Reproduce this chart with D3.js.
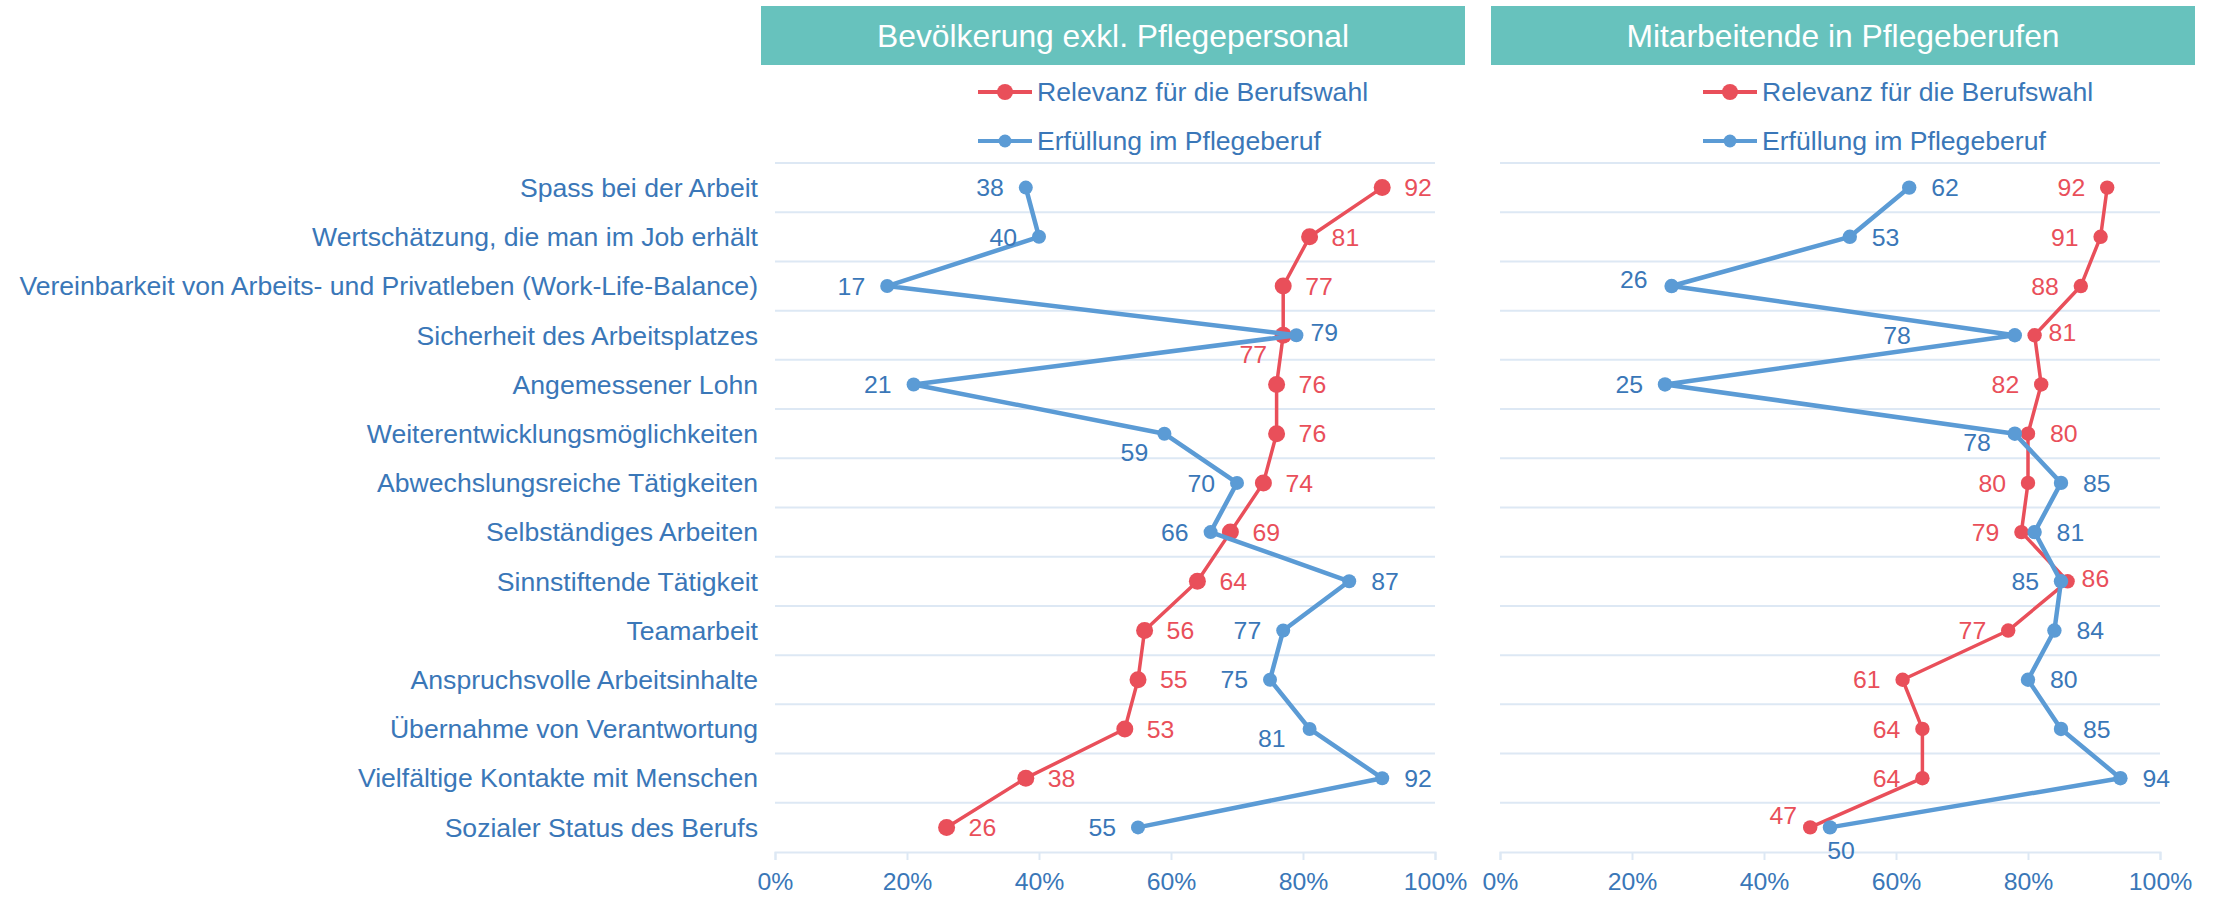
<!DOCTYPE html>
<html>
<head>
<meta charset="utf-8">
<script src="https://cdn.jsdelivr.net/npm/d3@7"></script>
<style>
body{margin:0;background:#fff;}
svg{display:block;font-family:"Liberation Sans",Arial,sans-serif;}
</style>
</head>
<body>
<svg id="chart" width="2214" height="897"></svg>
<script>
var categories = [
  "Spass bei der Arbeit",
  "Wertschätzung, die man im Job erhält",
  "Vereinbarkeit von Arbeits- und Privatleben (Work-Life-Balance)",
  "Sicherheit des Arbeitsplatzes",
  "Angemessener Lohn",
  "Weiterentwicklungsmöglichkeiten",
  "Abwechslungsreiche Tätigkeiten",
  "Selbständiges Arbeiten",
  "Sinnstiftende Tätigkeit",
  "Teamarbeit",
  "Anspruchsvolle Arbeitsinhalte",
  "Übernahme von Verantwortung",
  "Vielfältige Kontakte mit Menschen",
  "Sozialer Status des Berufs"
];
var panelTitles = ["Bevölkerung exkl. Pflegepersonal", "Mitarbeitende in Pflegeberufen"];
var seriesNames = ["Relevanz für die Berufswahl", "Erfüllung im Pflegeberuf"];

// Bevölkerung exkl. Pflegepersonal
var popRelevanz   = [92, 81, 77, 77, 76, 76, 74, 69, 64, 56, 55, 53, 38, 26];
var popErfuellung = [38, 40, 17, 79, 21, 59, 70, 66, 87, 77, 75, 81, 92, 55];
// Mitarbeitende in Pflegeberufen
var staffRelevanz   = [92, 91, 88, 81, 82, 80, 80, 79, 86, 77, 61, 64, 64, 47];
var staffErfuellung = [62, 53, 26, 78, 25, 78, 85, 81, 85, 84, 80, 85, 94, 50];

var xTicks = [0, 20, 40, 60, 80, 100];

// where each value label sits next to its point
var popRelPos   = ["r","r","r","bl","r","r","r","r","r","r","r","r","r","r"];
var popErfPos   = ["l","l","l","rn","l","bl","l","l","r","l","l","lb","r","l"];
var staffRelPos = ["l","l","l","rn","l","r","l","l","rn","l","l","l","l","al"];
var staffErfPos = ["r","r","lu","fl","l","lb","r","r","l","r","r","r","r","b"];

var RED = "#E94F5A", BLUE = "#5B9BD5", TEXTBLUE = "#3A77B8", RED_TEXT = "#E94F5A";
var GRID = "#DDE8F4", TEAL = "#67C2BD";

var svg = d3.select("#chart");

var y = d3.scaleBand().domain(categories).range([163, 852]).padding(0);

var panels = [
  {x0: 775, barX: 761, title: panelTitles[0], rel: popRelevanz, erf: popErfuellung,
   relPos: popRelPos, erfPos: popErfPos, relR: 8.5, erfR: 7},
  {x0: 1500, barX: 1491, title: panelTitles[1], rel: staffRelevanz, erf: staffErfuellung,
   relR: 7.2, erfR: 7.2, relPos: staffRelPos, erfPos: staffErfPos}
];

function labelOffset(code){
  switch(code){
    case "r":  return {dx: 22, dy: 0, anchor: "start"};
    case "rn": return {dx: 14, dy: -3, anchor: "start"};
    case "l":  return {dx: -22, dy: 0, anchor: "end"};
    case "lu": return {dx: -24, dy: -7, anchor: "end"};
    case "lb": return {dx: -24, dy: 9, anchor: "end"};
    case "bl": return {dx: -30, dy: 19, anchor: "middle"};
    case "al": return {dx: -27, dy: -12, anchor: "middle"};
    case "fl": return {dx: -104, dy: 0, anchor: "end"};
    case "b":  return {dx: 11, dy: 23, anchor: "middle"};
  }
}

// category labels (left side only)
svg.append("g").selectAll("text").data(categories).enter().append("text")
  .attr("x", 758)
  .attr("y", d => y(d) + y.bandwidth() / 2)
  .attr("dy", "0.35em")
  .attr("text-anchor", "end")
  .attr("font-size", "26.6px")
  .attr("fill", TEXTBLUE)
  .text(d => d);

panels.forEach(function(p){
  var x = d3.scaleLinear().domain([0, 100]).range([p.x0, p.x0 + 660]);
  var g = svg.append("g");

  // title bar
  g.append("rect")
    .attr("x", p.barX).attr("y", 6)
    .attr("width", 704).attr("height", 59)
    .attr("fill", TEAL);
  g.append("text")
    .attr("x", p.barX + 352).attr("y", 36)
    .attr("dy", "0.35em")
    .attr("text-anchor", "middle")
    .attr("font-size", "31.8px")
    .attr("fill", "#fff")
    .text(p.title);

  // legend
  var legend = [
    {name: seriesNames[0], color: RED, r: 8, y: 92},
    {name: seriesNames[1], color: BLUE, r: 6.5, y: 141}
  ];
  legend.forEach(function(l){
    var lx = p.x0 + 203;
    g.append("line")
      .attr("x1", lx).attr("x2", lx + 54)
      .attr("y1", l.y).attr("y2", l.y)
      .attr("stroke", l.color).attr("stroke-width", 4);
    g.append("circle")
      .attr("cx", lx + 27).attr("cy", l.y).attr("r", l.r)
      .attr("fill", l.color);
    g.append("text")
      .attr("x", lx + 59).attr("y", l.y)
      .attr("dy", "0.35em")
      .attr("font-size", "26.6px")
      .attr("fill", TEXTBLUE)
      .text(l.name);
  });

  // gridlines at band edges
  var edges = categories.map(d => y(d));
  g.append("g").selectAll("line").data(edges).enter().append("line")
    .attr("x1", p.x0).attr("x2", p.x0 + 660)
    .attr("y1", d => d).attr("y2", d => d)
    .attr("stroke", GRID).attr("stroke-width", 2);

  // x axis
  var axis = g.append("g")
    .attr("transform", "translate(0,852)")
    .call(d3.axisBottom(x).tickValues(xTicks).tickSize(8).tickPadding(12)
      .tickFormat(d => d + "%"));
  axis.select(".domain").attr("stroke", GRID).attr("stroke-width", 2);
  axis.selectAll(".tick line").attr("stroke", GRID).attr("stroke-width", 2);
  axis.selectAll(".tick text")
    .attr("font-size", "24.8px")
    .attr("font-family", "Liberation Sans, Arial, sans-serif")
    .attr("fill", TEXTBLUE);

  var line = d3.line()
    .x(d => x(d.v))
    .y(d => y(d.c) + y.bandwidth() / 2);

  var series = [
    {vals: p.rel, pos: p.relPos, color: RED, textColor: RED_TEXT, r: p.relR, width: 3.5},
    {vals: p.erf, pos: p.erfPos, color: BLUE, textColor: TEXTBLUE, r: p.erfR, width: 4.5}
  ];

  series.forEach(function(s){
    var pts = s.vals.map((v, i) => ({v: v, c: categories[i], pos: s.pos[i]}));
    g.append("path")
      .datum(pts)
      .attr("d", line)
      .attr("fill", "none")
      .attr("stroke", s.color)
      .attr("stroke-width", s.width)
      .attr("stroke-linejoin", "round");
    g.append("g").selectAll("circle").data(pts).enter().append("circle")
      .attr("cx", d => x(d.v))
      .attr("cy", d => y(d.c) + y.bandwidth() / 2)
      .attr("r", s.r)
      .attr("fill", s.color);
    s.labels = pts;
  });

  series.forEach(function(s){
    g.append("g").selectAll("text").data(s.labels).enter().append("text")
      .each(function(d){
        var o = labelOffset(d.pos);
        d3.select(this)
          .attr("x", x(d.v) + o.dx)
          .attr("y", y(d.c) + y.bandwidth() / 2 + o.dy)
          .attr("text-anchor", o.anchor);
      })
      .attr("dy", "0.35em")
      .attr("font-size", "24.8px")
      .attr("fill", s.textColor)
      .text(d => d.v);
  });
});
</script>
</body>
</html>
